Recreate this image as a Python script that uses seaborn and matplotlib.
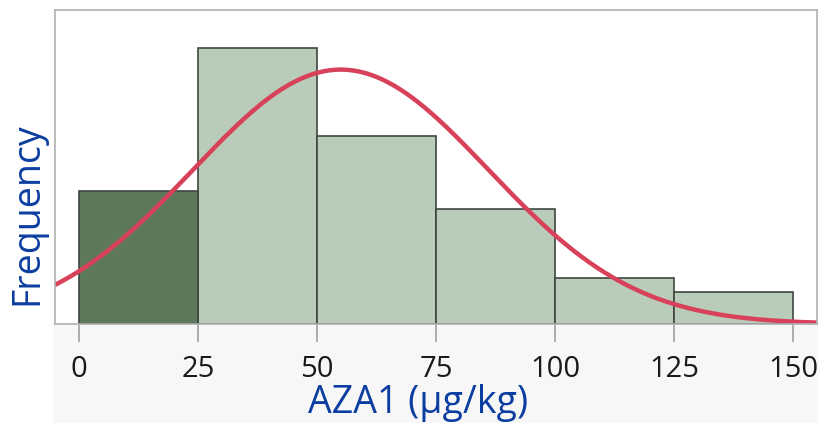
import numpy as np
import pandas as pd
import matplotlib
matplotlib.use("Agg")
import matplotlib.pyplot as plt
import seaborn as sns
from matplotlib.patches import Rectangle

# ---- data ----
bin_edges = [0, 25, 50, 75, 100, 125, 150]
bin_counts = [29, 60, 41, 25, 10, 7]
highlight = [True, False, False, False, False, False]
fit_mean = 55.0
fit_sd = 31.0
x_ticks = [0, 25, 50, 75, 100, 125, 150]

sns.set_theme(style="white")
plt.rcParams['font.family'] = ['Open Sans', 'DejaVu Sans']

fig = plt.figure(figsize=(8.21, 4.23), dpi=100)
ax = fig.add_axes([55/821, 1 - 324/423, (817-55)/821, (324-10)/423])
ax.set_zorder(1)

# gray band below plot
fig.patches.append(Rectangle((53/821, 0), (818-53)/821, 1 - 324/423,
                             transform=fig.transFigure, facecolor="#f7f7f7",
                             edgecolor="none", zorder=-5))

mids = [(a + b) / 2 for a, b in zip(bin_edges[:-1], bin_edges[1:])]
df = pd.DataFrame({"mid": mids, "count": bin_counts,
                   "grp": ["hi" if h else "lo" for h in highlight]})
sns.histplot(data=df, x="mid", weights="count", bins=bin_edges, hue="grp",
             palette={"hi": "#5d785b", "lo": "#b9cbb9"}, alpha=1,
             edgecolor="#3e463e", linewidth=1.2, legend=False, ax=ax,
             multiple="layer")

xs = np.linspace(-5, 155, 400)
N = sum(bin_counts)
bw = bin_edges[1] - bin_edges[0]
ys = N * bw / (fit_sd * np.sqrt(2 * np.pi)) * np.exp(-0.5 * ((xs - fit_mean) / fit_sd) ** 2)
sns.lineplot(x=xs, y=ys, color="#d8415a", linewidth=3.2, ax=ax)

ax.set_xlim(-5, 155)
ax.set_ylim(0, 68.3)
ax.set_yticks([])
ax.set_xticks(x_ticks)
ax.set_xticklabels([str(t) for t in x_ticks], fontsize=21, color="#1a1a1a")
ax.tick_params(axis="x", direction="out", length=13, width=1.2, color="#a0a0a0",
               pad=9, bottom=True)
for s in ax.spines.values():
    s.set_color("#b0b0b0")
    s.set_linewidth(1.2)
ax.set_ylabel("")
ax.set_xlabel("")
fig.text(27/821, 1 - 214/423, "Frequency", fontsize=27, color="#0b3ea0",
         rotation=90, ha="center", va="center")
fig.text(418/821, 1 - 403/423, "AZA1 (μg/kg)", fontsize=27, color="#0b3ea0",
         ha="center", va="center")

fig.savefig("out.png", dpi=100)
